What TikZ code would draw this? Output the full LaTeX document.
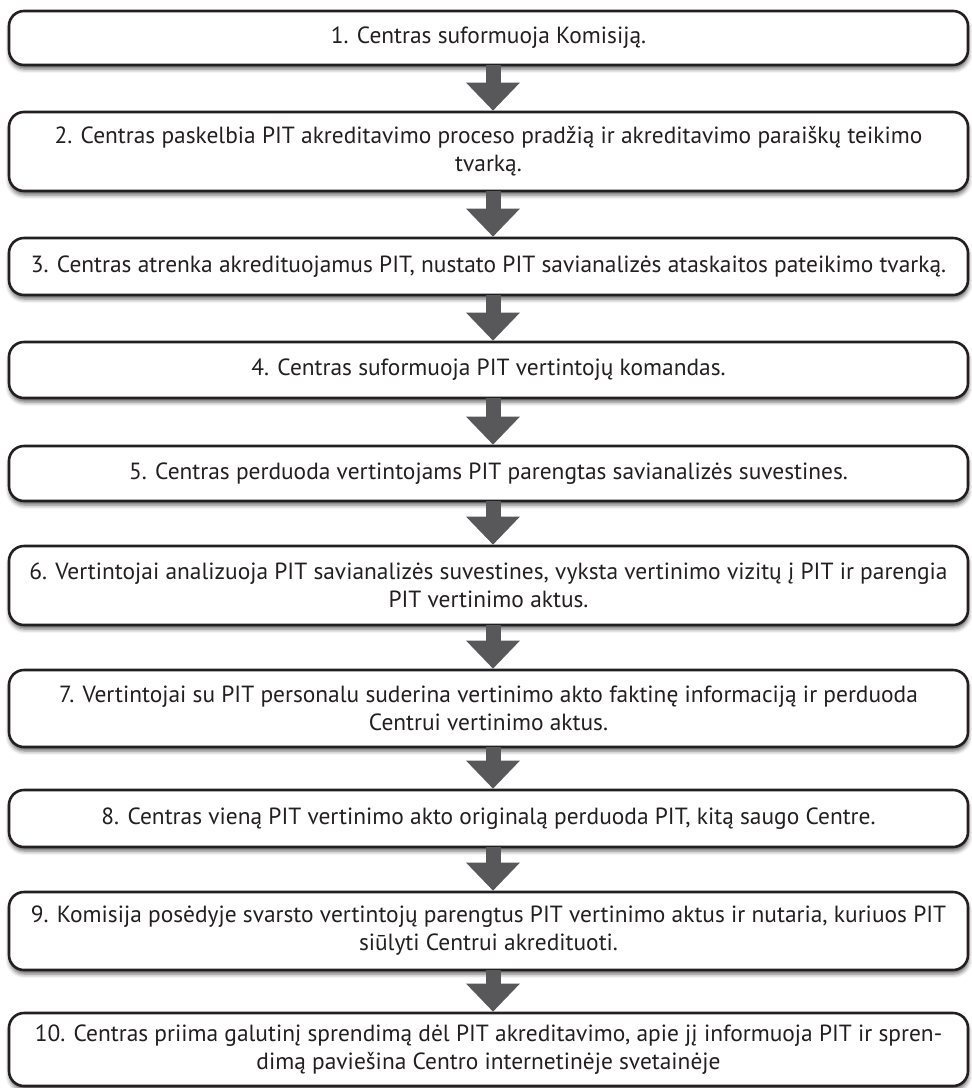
\documentclass[tikz,border=0pt]{standalone}
\usepackage{fontspec}
\setmainfont{PT Sans}
\usetikzlibrary{arrows.meta,shadows.blur}

\definecolor{ink}{HTML}{231F20}
\definecolor{arrowgray}{HTML}{58585A}

\tikzset{
  stepbox/.style={
    draw=ink, line width=2.6pt, fill=white, rounded corners=15pt,
    minimum width=959pt, inner sep=0pt, align=center, text=ink,
    font=\fontsize{23.4}{28}\selectfont,
    blur shadow={shadow xshift=0.5pt, shadow yshift=-4pt,
                 shadow blur radius=4pt, shadow opacity=60}
  },
  flow/.style={
    line width=15pt, draw=arrowgray,
    -{Triangle[width=52pt,length=28pt,fill=arrowgray]}, shorten <=-1pt
  }
}

\begin{document}
\begin{tikzpicture}[x=1pt,y=-1pt]
  \useasboundingbox (0,0) rectangle (972,1088);

  \node[stepbox, minimum height=54pt] (b1) at (488.5,38)
    {1. Centras suformuoja Komisiją.};
  \node[stepbox, minimum height=79pt] (b2) at (488.5,151.5)
    {2. Centras paskelbia PIT akreditavimo proceso pradžią ir akreditavimo paraiškų teikimo\\tvarką.};
  \node[stepbox, minimum height=57pt] (b3) at (488.5,266.5)
    {3. Centras atrenka akredituojamus PIT, nustato PIT savianalizės ataskaitos pateikimo tvarką.};
  \node[stepbox, minimum height=56pt] (b4) at (488.5,370)
    {4. Centras suformuoja PIT vertintojų komandas.};
  \node[stepbox, minimum height=55pt] (b5) at (488.5,473.5)
    {5. Centras perduoda vertintojams PIT parengtas savianalizės suvestines.};
  \node[stepbox, minimum height=79pt] (b6) at (488.5,585.5)
    {6. Vertintojai analizuoja PIT savianalizės suvestines, vyksta vertinimo vizitų į PIT ir parengia\\PIT vertinimo aktus.};
  \node[stepbox, minimum height=77pt] (b7) at (488.5,708.5)
    {7. Vertintojai su PIT personalu suderina vertinimo akto faktinę informaciją ir perduoda\\Centrui vertinimo aktus.};
  \node[stepbox, minimum height=57pt] (b8) at (488.5,818.5)
    {8. Centras vieną PIT vertinimo akto originalą perduoda PIT, kitą saugo Centre.};
  \node[stepbox, minimum height=78pt] (b9) at (488.5,931)
    {9. Komisija posėdyje svarsto vertintojų parengtus PIT vertinimo aktus ir nutaria, kuriuos PIT\\siūlyti Centrui akredituoti.};
  \node[stepbox, minimum height=73pt] (b10) at (488.5,1049.5)
    {10. Centras priima galutinį sprendimą dėl PIT akreditavimo, apie jį informuoja PIT ir spren-\\dimą paviešina Centro internetinėje svetainėje};

  % connecting arrows, slightly right of the box centres
  \foreach \a/\b in {b1/b2,b2/b3,b3/b4,b4/b5,b5/b6,b6/b7,b7/b8,b8/b9,b9/b10}
    \draw[flow] ([xshift=4.5pt]\a.south) -- ([xshift=4.5pt]\b.north);
\end{tikzpicture}
\end{document}
